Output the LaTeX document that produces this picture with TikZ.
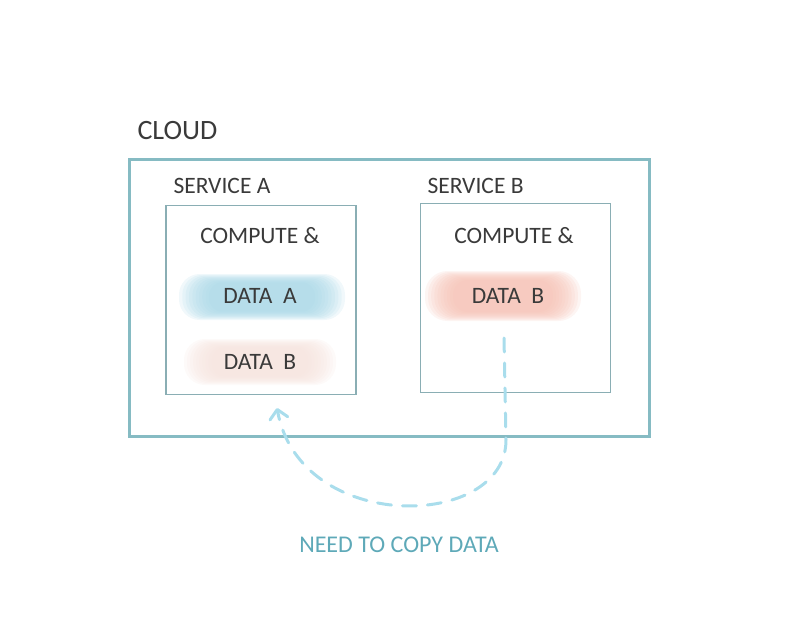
\documentclass[tikz,border=0pt]{standalone}
\usepackage{fontspec}
\setmainfont{Carlito}
\usepackage{tikz}
\usetikzlibrary{arrows.meta,calc}

\definecolor{frame}{HTML}{86BBC3}
\definecolor{inner}{HTML}{8AAEB4}
\definecolor{ink}{HTML}{3A3A3A}
\definecolor{wash}{HTML}{A6D6E6}
\definecolor{blush}{HTML}{F5BFB2}
\definecolor{paleblush}{HTML}{F5E2DC}
\definecolor{copyline}{HTML}{A9DDEC}
\definecolor{copytext}{HTML}{5EA9B8}

% soft painted patch behind a label: centre, colour, half width, half height
\newcommand\smudge[4]{%
  \foreach \s in {1.0,0.96,0.92,0.88,0.84,0.8,0.76,0.72,0.68,0.64}
    \fill[#2,opacity=0.16,rounded corners=#4*\s*0.9pt]
      ($(#1)+({-#3*\s},{-#4*\s})$) rectangle ($(#1)+({#3*\s},{#4*\s})$);}

\begin{document}
\begin{tikzpicture}[x=1pt,y=-1pt,
    lbl/.style={text=ink,font=\fontsize{23.5}{26}\selectfont},
    bigbox/.style={draw=frame,line width=3pt,minimum width=520pt,minimum height=276pt},
    svcbox/.style={draw=inner,line width=1.3pt,minimum width=190pt,minimum height=189pt}]
    \useasboundingbox (0,0) rectangle (790,623);

    \node[bigbox] (cloud) at (389,298) {};                  % cloud frame
    \node[svcbox] (svca) at (261,300) {};                   % two services
    \node[svcbox] (svcb) at (515.5,298) {};

    \node[lbl,anchor=west,font=\fontsize{28}{30}\selectfont] (cloudlbl) at (134,131) {CLOUD};
    \node[lbl,anchor=west] (svcalbl) at (170,186) {SERVICE A};
    \node[lbl,anchor=west] (svcblbl) at (424,186) {SERVICE B};

    \node[lbl] (compa) at (260,236) {COMPUTE \&};
    \node[lbl] (compb) at (514,236) {COMPUTE \&};

    \smudge{262,297}{wash}{83}{23}
    \smudge{260,362}{paleblush}{76}{23}
    \smudge{503,296}{blush}{78}{25}
    \node[lbl] (dataa) at (260,296) {DATA\ \ A};
    \node[lbl] (datab) at (260,362) {DATA\ \ B};
    \node[lbl] (datab2) at (508,296) {DATA\ \ B};

    \node[text=copytext,font=\fontsize{24}{26}\selectfont] (need) at (399,545) {NEED TO COPY DATA};

    \coordinate (src) at (504,338);
    \coordinate (dst) at (277,408);
    \draw[copyline,line width=3pt,dash pattern=on 14pt off 11pt,line cap=round,
          -{Straight Barb[length=9pt,width=18pt,round]}]
        (src) -- (506,440) .. controls (506,530) and (300,535) .. (dst);
\end{tikzpicture}
\end{document}
